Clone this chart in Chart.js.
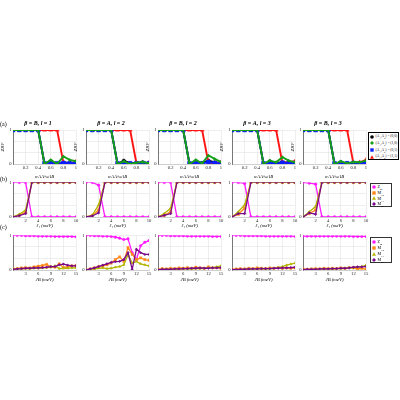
<!DOCTYPE html>
<html>
<head>
<meta charset="UTF-8">
<title>Overlap and order parameters</title>
<script src="https://cdn.jsdelivr.net/npm/chart.js@4.4.1/dist/chart.umd.min.js"></script>
<style>
  body { margin:0; width:400px; height:400px; position:relative; background:#fff; overflow:hidden;
         font-family:'Liberation Serif','DejaVu Serif',serif; }
  canvas { position:absolute; }
  .tag { position:absolute; left:0; font-size:6px; line-height:6px; }
  .legend { position:absolute; background:#fff; box-sizing:border-box; padding:0 1px; }
  .legend div { white-space:nowrap; display:flex; align-items:center; }
  .legend svg { margin-right:1.5px; flex:none; }
  .legend sub { font-size:70%; line-height:0; }
</style>
</head>
<body>
<script>
// ---- data ----
const wRatio = [0, 0.1, 0.2, 0.3, 0.4, 0.5, 0.6, 0.7, 0.8, 0.9, 1];
const jOne = [0, 1, 2, 3, 4, 5, 6, 7, 8, 9, 10];
const jB = [0, 1, 2, 3, 4, 5, 6, 7, 8, 9, 10, 11, 12, 13, 14, 15];

const titlesA = ["β = B, l = 1", "β = A, l = 2", "β = B, l = 2", "β = A, l = 3", "β = B, l = 3"];

// row (a): Z_BF for the four (A1,A2) sectors, one list per panel
const z00 = [
  [1,1,1,1,1,0,0.08,0,0.05,0.03,0],
  [1,1,1,1,1,0,0.1,0.02,0.03,0.05,0.02],
  [1,1,1,1,1,0,0.06,0.02,0.1,0.05,0.03],
  [1,1,1,1,1,0,0.08,0.03,0.05,0.04,0.02],
  [1,1,1,1,1,0,0.05,0.02,0.04,0.03,0.06]
];
const z10 = [
  [1,1,1,1,1,0,0.12,0,0.22,0.12,0.08],
  [1,1,1,1,1,0,0.08,0,0.04,0.06,0.02],
  [1,1,1,1,1,0,0.12,0.02,0.25,0.15,0.06],
  [1,1,1,1,1,0,0.1,0.05,0.2,0.1,0.05],
  [1,1,1,1,1,0,0.08,0.02,0.06,0.05,0.1]
];
const z01 = [
  [1,1,1,1,1,0.02,0.04,0.02,0.03,0.02,0.03],
  [1,1,1,1,1,0.02,0.03,0.02,0.02,0.03,0.02],
  [1,1,1,1,1,0.02,0.05,0.02,0.06,0.03,0.02],
  [1,1,1,1,1,0.02,0.03,0.02,0.04,0.02,0.03],
  [1,1,1,1,1,0.02,0.03,0.02,0.03,0.02,0.04]
];
const z11 = [
  [1,1,1,1,1,1,1,1,0.04,0.02,0.07],
  [1,1,1,1,1,1,1,1,0.03,0.02,0.04],
  [1,1,1,1,1,1,1,1,0.04,0.02,0.05],
  [1,1,1,1,1,1,1,1,0.03,0.05,0.08],
  [1,1,1,1,1,1,1,1,0.02,0.05,0.12]
];

// row (b): vs J1
const bZm = [
  [1,1,1,0,0,0,0,0,0,0,0],
  [1,1,0.92,0,0,0,0,0,0,0,0],
  [1,1,1,0,0,0,0,0,0,0,0],
  [1,1,0.97,0,0,0,0,0,0,0,0],
  [1,0.98,0.95,0,0,0,0,0,0,0,0]
];
const bM12 = [
  [0,0.05,0.14,1,1,1,1,1,1,1,1],
  [0,0.04,0.2,1,1,1,1,1,1,1,1],
  [0,0.05,0.15,1,1,1,1,1,1,1,1],
  [0,0.08,0.25,1,1,1,1,1,1,1,1],
  [0,0.1,0.2,1,1,1,1,1,1,1,1]
];
const bM13 = [
  [0,0.08,0.2,1,1,1,1,1,1,1,1],
  [0,0.05,0.35,1,1,1,1,1,1,1,1],
  [0,0.1,0.25,1,1,1,1,1,1,1,1],
  [0,0.15,0.35,1,1,1,1,1,1,1,1],
  [0,0.15,0.3,1,1,1,1,1,1,1,1]
];
const bM23 = [
  [0,0.04,0.1,1,1,1,1,1,1,1,1],
  [0,0.03,0.12,1,1,1,1,1,1,1,1],
  [0,0.05,0.1,1,1,1,1,1,1,1,1],
  [0,0.1,0.1,1,1,1,1,1,1,1,1],
  [0,0.12,0.08,1,1,1,1,1,1,1,1]
];

// row (c): vs J_B
const cZm = [
  [1,1,1,0.99,0.99,0.99,0.98,0.98,0.98,0.98,0.97,0.97,0.97,0.97,0.97,0.96],
  [1,1,0.99,0.99,0.98,0.98,0.97,0.95,0.92,0.88,0.9,0.5,0.3,0.7,0.8,0.85],
  [1,1,1,0.99,0.99,0.99,0.99,0.98,0.98,0.98,0.98,0.98,0.98,0.97,0.97,0.97],
  [1,1,1,0.99,0.99,0.99,0.99,0.99,0.98,0.98,0.98,0.98,0.98,0.98,0.98,0.97],
  [0.98,0.98,0.98,0.98,0.98,0.98,0.98,0.98,0.98,0.98,0.98,0.98,0.97,0.97,0.97,0.97]
];
const cM12 = [
  [0.04,0.04,0.06,0.07,0.06,0.09,0.11,0.13,0.16,0.09,0.08,0.18,0.07,0.1,0.12,0.13],
  [0,0.03,0.06,0.1,0.12,0.15,0.2,0.3,0.38,0.25,0.65,0.45,0.3,0.35,0.3,0.28],
  [0.02,0.04,0.03,0.05,0.04,0.06,0.05,0.07,0.05,0.08,0.06,0.05,0.09,0.06,0.07,0.05],
  [0.02,0.03,0.04,0.03,0.05,0.04,0.06,0.05,0.04,0.06,0.05,0.07,0.05,0.06,0.05,0.06],
  [0.03,0.02,0.03,0.04,0.03,0.05,0.04,0.05,0.04,0.06,0.05,0.07,0.06,0.03,0.05,0.02]
];
const cM13 = [
  [0.02,0.03,0.03,0.04,0.04,0.05,0.05,0.06,0.07,0.08,0.12,0.04,0.05,0.05,0.06,0.06],
  [0,0.02,0.03,0.05,0.06,0.04,0.05,0.08,0.1,0.15,0.45,0.2,0.25,0.18,0.15,0.12],
  [0.01,0.01,0.02,0.02,0.02,0.02,0.03,0.03,0.03,0.04,0.04,0.05,0.06,0.07,0.09,0.12],
  [0.01,0.01,0.01,0.02,0.02,0.02,0.03,0.03,0.03,0.04,0.05,0.07,0.1,0.14,0.17,0.2],
  [0.01,0.01,0.02,0.02,0.02,0.03,0.03,0.03,0.04,0.04,0.05,0.06,0.07,0.08,0.1,0.14]
];
const cM23 = [
  [0.02,0.03,0.04,0.05,0.05,0.06,0.06,0.07,0.08,0.1,0.1,0.15,0.17,0.14,0.12,0.12],
  [0,0.03,0.06,0.1,0.14,0.18,0.22,0.24,0.25,0.3,0.5,0.02,0.6,0.5,0.45,0.45],
  [0.01,0.02,0.02,0.02,0.03,0.03,0.04,0.04,0.05,0.05,0.06,0.05,0.05,0.06,0.06,0.07],
  [0.01,0.01,0.02,0.02,0.03,0.03,0.03,0.04,0.04,0.04,0.05,0.05,0.06,0.06,0.07,0.08],
  [0.01,0.02,0.02,0.02,0.03,0.03,0.03,0.04,0.04,0.05,0.05,0.06,0.08,0.09,0.09,0.1]
];

// ---- styling ----
const serif = "'Liberation Serif', 'DejaVu Serif', serif";
const col = { k:'#000000', g:'#16a016', b:'#0a1eff', r:'#ff1414',
              m:'#ff1aff', o:'#ff8a1a', y:'#b4b400', p:'#7a0a8a' };
const plotLefts = [13, 86, 158, 232, 303];
const plotW = 63, yW = 13, padR = 5;

function series(xs, ys, color, shape, rad, order, lw) {
  return {
    data: xs.map((x, i) => ({ x: x, y: ys[i] })),
    borderColor: color, backgroundColor: color,
    pointStyle: shape, pointRadius: rad, pointBorderWidth: 0.4,
    borderWidth: lw, order: order, tension: 0
  };
}

function panel(o) {
  const c = document.createElement('canvas');
  const w = yW + plotW + padR;
  const h = o.topH + o.plotH + o.xH;
  c.width = w; c.height = h;
  c.style.left = (o.left - yW) + 'px';
  c.style.top = (o.plotTop - o.topH) + 'px';
  document.body.appendChild(c);
  const tickFont = { family: serif, size: 4.6 };
  new Chart(c, {
    type: 'line',
    data: { datasets: o.datasets },
    options: {
      responsive: false, animation: false, events: [],
      layout: { padding: { top: o.title ? 0 : o.topH, right: padR, left: 0, bottom: 0 } },
      plugins: {
        legend: { display: false }, tooltip: { enabled: false },
        title: { display: !!o.title, text: o.title, color: '#000',
                 font: { family: serif, size: 6, style: 'italic', weight: 'bold', lineHeight: 1.2 },
                 padding: { top: o.topH - 10.2, bottom: 3 } }
      },
      scales: {
        x: {
          type: 'linear', min: o.xMin, max: o.xMax,
          ticks: { stepSize: o.step, autoSkip: false, maxRotation: 0, padding: 1, color: '#222', font: tickFont,
                   callback: v => (v === 0 ? '' : String(+v.toFixed(2))) },
          grid: { color: '#e2e2e2', lineWidth: 0.6, drawTicks: false },
          border: { color: '#c8c8c8', width: 0.8 },
          title: { display: true, text: o.xLabel, color: '#000', padding: 0,
                   font: { family: serif, size: 4.8, style: 'italic' } },
          afterFit: s => { s.height = o.xH; s.paddingLeft = 0; s.paddingRight = 0; }
        },
        y: {
          min: 0, max: 1,
          ticks: { stepSize: 1 / 3, padding: 1.5, color: '#222', font: tickFont,
                   callback: v => (Math.abs(v) < 1e-6 ? '0' : Math.abs(v - 1) < 1e-6 ? '1' : '') },
          grid: { color: '#e2e2e2', lineWidth: 0.6, drawTicks: false },
          border: { color: '#6a6a6a', width: 0.9 },
          title: { display: !!o.yLabel, text: o.yLabel, color: '#000', padding: 0,
                   font: { family: serif, size: 5, style: 'italic' } },
          afterFit: s => { s.width = yW; s.paddingTop = 0; s.paddingBottom = 0; }
        }
      }
    }
  });
}

for (let i = 0; i < 5; i++) {
  panel({
    left: plotLefts[i], plotTop: 130, plotH: 34, topH: 16, xH: 16,
    title: titlesA[i], xLabel: 'wAA/wAB', yLabel: 'ZBF',
    xMin: 0, xMax: 1, step: 0.2,
    datasets: [
      series(wRatio, z10[i], col.g, 'rectRot', 1.5, 0, 1.9),
      series(wRatio, z01[i], col.b, 'rect', 2.8, 1, 1.9),
      series(wRatio, z11[i], col.r, 'triangle', 2.4, 2, 1.9),
      series(wRatio, z00[i], col.k, 'circle', 1.7, 3, 1.9)
    ]
  });
  panel({
    left: plotLefts[i], plotTop: 181, plotH: 36, topH: 3, xH: 12,
    title: '', xLabel: 'J₁ (meV)', yLabel: '',
    xMin: 0, xMax: 10, step: 2,
    datasets: [
      series(jOne, bM23[i], col.p, 'rectRot', 1.4, 0, 1.3),
      series(jOne, bM13[i], col.y, 'triangle', 1.5, 1, 1.3),
      series(jOne, bM12[i], col.o, 'rect', 1.8, 2, 1.3),
      series(jOne, bZm[i], col.m, 'circle', 1.4, 3, 1.3)
    ]
  });
  panel({
    left: plotLefts[i], plotTop: 234, plotH: 36, topH: 3, xH: 13,
    title: '', xLabel: 'JB (meV)', yLabel: '',
    xMin: 0, xMax: 15, step: 3,
    datasets: [
      series(jB, cM23[i], col.p, 'rectRot', 1.3, 0, 1.3),
      series(jB, cM13[i], col.y, 'triangle', 1.4, 1, 1.3),
      series(jB, cM12[i], col.o, 'rect', 1.6, 2, 1.3),
      series(jB, cZm[i], col.m, 'circle', 1.3, 3, 1.3)
    ]
  });
}

// ---- row tags ----
[['(a)', 121], ['(b)', 176], ['(c)', 224]].forEach(t => {
  const d = document.createElement('div');
  d.className = 'tag'; d.textContent = t[0]; d.style.top = t[1] + 'px';
  document.body.appendChild(d);
});

// ---- legends ----
function marker(shape, color) {
  let s = '';
  if (shape === 'circle') s = `<circle cx="2" cy="2" r="1.8" fill="${color}"/>`;
  if (shape === 'rect') s = `<rect x="0.3" y="0.3" width="3.4" height="3.4" fill="${color}"/>`;
  if (shape === 'rectRot') s = `<polygon points="2,0 4,2 2,4 0,2" fill="${color}"/>`;
  if (shape === 'triangle') s = `<polygon points="2,0.2 4,3.8 0,3.8" fill="${color}"/>`;
  return `<svg width="4" height="4" viewBox="0 0 4 4">${s}</svg>`;
}
function legend(x, y, w, h, items, fs, lh, border) {
  const d = document.createElement('div');
  d.className = 'legend';
  Object.assign(d.style, { left: x + 'px', top: y + 'px', width: w + 'px', height: h + 'px',
    fontSize: fs + 'px', border: border, paddingTop: '0.5px' });
  items.forEach(it => {
    const r = document.createElement('div');
    r.style.height = lh + 'px';
    r.innerHTML = marker(it[1], it[2]) + '<span>' + it[0] + '</span>';
    d.appendChild(r);
  });
  document.body.appendChild(d);
}
const legendA = [
  ['(A<sub>1</sub>,A<sub>2</sub>) = (0,0)', 'circle', col.k],
  ['(A<sub>1</sub>,A<sub>2</sub>) = (1,0)', 'rectRot', col.g],
  ['(A<sub>1</sub>,A<sub>2</sub>) = (0,1)', 'rect', col.b],
  ['(A<sub>1</sub>,A<sub>2</sub>) = (1,1)', 'triangle', col.r]
];
const legendM = [
  ['Z<sub>m</sub>', 'circle', col.m],
  ['M<sub>12</sub>', 'rect', col.o],
  ['M<sub>13</sub>', 'triangle', col.y],
  ['M<sub>23</sub>', 'rectRot', col.p]
];
legend(368, 132, 31, 28, legendA, 3.6, 6.6, '1.4px solid #000');
legend(370, 183, 22, 24, legendM, 4, 5.6, '1.5px solid #333');
legend(370, 237, 22, 26, legendM, 4, 6, '1.5px solid #333');
</script>
</body>
</html>
